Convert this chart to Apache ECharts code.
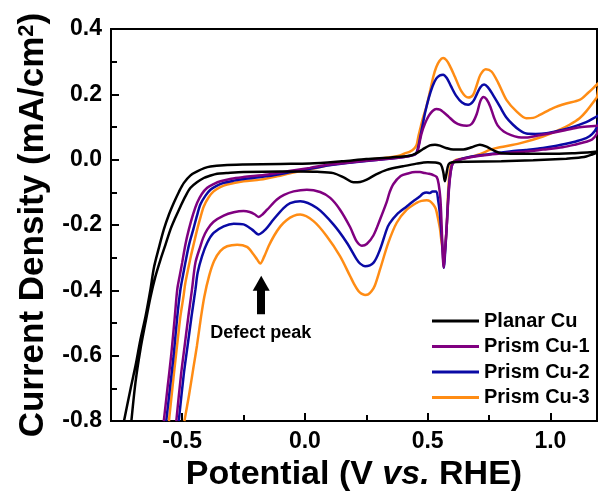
<!DOCTYPE html>
<html>
<head>
<meta charset="utf-8">
<script src="https://cdn.jsdelivr.net/npm/echarts@6/dist/echarts.min.js"></script>
<style>html,body{margin:0;padding:0;background:#fff}#c{width:598px;height:497px}</style>
</head>
<body>
<div id="c"></div>
<script>
// ---- Data (potential V vs RHE, current density mA/cm2), loop order: anodic scan then cathodic scan ----
const seriesNames = ['Planar Cu', 'Prism Cu-1', 'Prism Cu-2', 'Prism Cu-3'];
const seriesColors = ['#000000', '#800080', '#0a0aa5', '#ff8c14'];

const planarCu = [
  [-0.737,-0.80],[-0.71,-0.70],[-0.69,-0.63],[-0.67,-0.55],[-0.649,-0.478],[-0.63,-0.40],[-0.615,-0.33],[-0.595,-0.27],
  [-0.575,-0.214],[-0.555,-0.17],[-0.534,-0.132],[-0.513,-0.098],[-0.493,-0.071],[-0.466,-0.048],[-0.439,-0.036],
  [-0.41,-0.026],[-0.385,-0.021],[-0.33,-0.017],[-0.25,-0.015],[-0.1,-0.013],[0.02,-0.012],[0.15,-0.005],[0.25,0.002],
  [0.35,0.007],[0.428,0.012],[0.455,0.02],[0.48,0.032],[0.509,0.044],[0.53,0.046],[0.55,0.043],[0.575,0.036],
  [0.604,0.031],[0.645,0.031],[0.68,0.038],[0.713,0.046],[0.74,0.04],[0.767,0.029],[0.80,0.02],[0.9,0.018],
  [1.0,0.018],[1.1,0.02],[1.15,0.022],[1.19,0.025],
  [1.2,0.026],
  [1.19,0.022],[1.17,0.016],[1.146,0.010],[1.1,0.005],[1.065,0.003],[0.93,-0.002],[0.8,-0.005],[0.66,-0.006],
  [0.6,-0.008],[0.585,-0.015],[0.575,-0.05],[0.57,-0.066],[0.563,-0.035],[0.55,-0.012],[0.5,-0.008],[0.455,-0.012],
  [0.4,-0.02],[0.333,-0.031],[0.29,-0.045],[0.252,-0.061],[0.225,-0.068],[0.198,-0.069],[0.16,-0.055],[0.116,-0.041],
  [0.05,-0.037],[-0.019,-0.036],[-0.1,-0.036],[-0.25,-0.038],[-0.32,-0.041],[-0.358,-0.043],[-0.39,-0.05],
  [-0.412,-0.056],[-0.44,-0.069],[-0.466,-0.086],[-0.487,-0.112],[-0.507,-0.143],[-0.528,-0.178],[-0.548,-0.214],
  [-0.568,-0.26],[-0.588,-0.305],[-0.61,-0.36],[-0.629,-0.42],[-0.65,-0.5],[-0.67,-0.58],[-0.69,-0.68],[-0.707,-0.80]
];

const prismCu1 = [
  [-0.575,-0.80],[-0.56,-0.70],[-0.545,-0.60],[-0.53,-0.48],[-0.52,-0.397],[-0.51,-0.355],[-0.50,-0.315],[-0.487,-0.26],
  [-0.473,-0.214],[-0.456,-0.168],[-0.439,-0.132],[-0.42,-0.105],[-0.398,-0.086],[-0.37,-0.074],[-0.344,-0.066],
  [-0.30,-0.058],[-0.25,-0.053],[-0.15,-0.045],[-0.05,-0.033],[0.02,-0.025],[0.1,-0.015],[0.2,-0.007],[0.3,0.0],
  [0.38,0.006],[0.43,0.012],[0.455,0.02],[0.465,0.045],[0.475,0.08],[0.49,0.112],[0.505,0.135],[0.52,0.149],
  [0.535,0.155],[0.55,0.153],[0.565,0.145],[0.585,0.132],[0.61,0.115],[0.635,0.106],[0.66,0.104],[0.68,0.11],
  [0.70,0.14],[0.715,0.18],[0.728,0.192],[0.74,0.185],[0.755,0.163],[0.77,0.13],[0.785,0.105],[0.81,0.086],
  [0.84,0.075],[0.87,0.069],[0.90,0.068],[0.95,0.074],[1.0,0.081],[1.06,0.09],[1.12,0.099],[1.19,0.104],
  [1.2,0.105],
  [1.19,0.08],[1.17,0.062],[1.146,0.055],[1.1,0.046],[1.05,0.038],[0.97,0.031],[0.9,0.025],[0.835,0.021],
  [0.75,0.015],[0.68,0.008],[0.64,0.002],[0.61,-0.005],[0.598,-0.02],[0.588,-0.08],[0.578,-0.2],[0.568,-0.31],
  [0.565,-0.33],[0.562,-0.3],[0.557,-0.2],[0.552,-0.12],[0.545,-0.075],[0.537,-0.053],[0.52,-0.046],[0.505,-0.043],
  [0.489,-0.041],[0.469,-0.038],[0.45,-0.038],[0.42,-0.042],[0.39,-0.05],[0.36,-0.075],[0.345,-0.1],[0.333,-0.13],
  [0.306,-0.183],[0.279,-0.232],[0.252,-0.258],[0.232,-0.263],[0.211,-0.25],[0.184,-0.206],[0.143,-0.153],
  [0.103,-0.117],[0.062,-0.099],[0.008,-0.092],[-0.046,-0.097],[-0.085,-0.108],[-0.114,-0.122],[-0.154,-0.153],
  [-0.172,-0.167],[-0.189,-0.175],[-0.205,-0.167],[-0.225,-0.16],[-0.25,-0.157],[-0.29,-0.161],[-0.331,-0.171],
  [-0.372,-0.19],[-0.398,-0.214],[-0.415,-0.24],[-0.426,-0.265],[-0.446,-0.315],[-0.46,-0.397],[-0.475,-0.48],
  [-0.49,-0.57],[-0.505,-0.66],[-0.524,-0.80]
];

const prismCu2 = [
  [-0.565,-0.80],[-0.55,-0.70],[-0.535,-0.60],[-0.52,-0.48],[-0.507,-0.397],[-0.497,-0.355],[-0.487,-0.315],
  [-0.472,-0.26],[-0.455,-0.214],[-0.44,-0.172],[-0.426,-0.137],[-0.405,-0.11],[-0.385,-0.092],[-0.36,-0.08],
  [-0.331,-0.071],[-0.29,-0.064],[-0.25,-0.059],[-0.15,-0.05],[-0.05,-0.037],[0.02,-0.028],[0.1,-0.017],[0.2,-0.008],
  [0.3,0.0],[0.38,0.006],[0.43,0.012],[0.452,0.018],[0.462,0.04],[0.47,0.07],[0.478,0.1],[0.49,0.145],[0.505,0.19],
  [0.52,0.225],[0.535,0.248],[0.55,0.258],[0.563,0.26],[0.578,0.25],[0.595,0.225],[0.615,0.197],[0.64,0.175],
  [0.665,0.168],[0.685,0.178],[0.70,0.2],[0.715,0.222],[0.73,0.23],[0.745,0.222],[0.765,0.2],[0.794,0.163],
  [0.82,0.13],[0.848,0.107],[0.875,0.09],[0.902,0.08],[0.94,0.079],[0.984,0.081],[1.03,0.088],[1.078,0.097],
  [1.146,0.115],[1.19,0.133],
  [1.2,0.136],
  [1.19,0.1],[1.17,0.078],[1.146,0.066],[1.1,0.055],[1.078,0.051],[1.02,0.042],[0.97,0.036],[0.9,0.03],[0.835,0.025],
  [0.75,0.017],[0.68,0.01],[0.64,0.003],[0.61,-0.005],[0.598,-0.02],[0.587,-0.081],[0.577,-0.214],[0.569,-0.31],
  [0.566,-0.331],[0.563,-0.3],[0.557,-0.234],[0.549,-0.16],[0.543,-0.125],[0.535,-0.097],[0.52,-0.097],[0.509,-0.102],
  [0.495,-0.1],[0.48,-0.104],[0.469,-0.112],[0.44,-0.128],[0.415,-0.143],[0.374,-0.168],[0.345,-0.195],[0.333,-0.214],
  [0.306,-0.275],[0.279,-0.316],[0.245,-0.326],[0.225,-0.318],[0.211,-0.305],[0.171,-0.254],[0.116,-0.198],
  [0.049,-0.148],[-0.019,-0.127],[-0.06,-0.133],[-0.087,-0.148],[-0.128,-0.183],[-0.161,-0.214],[-0.189,-0.229],
  [-0.215,-0.214],[-0.25,-0.198],[-0.29,-0.196],[-0.331,-0.204],[-0.372,-0.224],[-0.398,-0.254],[-0.419,-0.295],
  [-0.437,-0.346],[-0.446,-0.397],[-0.462,-0.48],[-0.478,-0.57],[-0.494,-0.66],[-0.514,-0.80]
];

const prismCu3 = [
  [-0.554,-0.80],[-0.54,-0.70],[-0.53,-0.63],[-0.515,-0.53],[-0.507,-0.478],[-0.495,-0.42],[-0.487,-0.377],
  [-0.466,-0.30],[-0.452,-0.255],[-0.439,-0.214],[-0.425,-0.175],[-0.412,-0.143],[-0.392,-0.115],[-0.372,-0.097],
  [-0.345,-0.084],[-0.317,-0.076],[-0.25,-0.066],[-0.182,-0.061],[-0.114,-0.051],[-0.046,-0.039],[0.02,-0.030],
  [0.116,-0.014],[0.252,-0.001],[0.34,0.007],[0.387,0.013],[0.41,0.02],[0.428,0.025],[0.445,0.034],[0.455,0.045],
  [0.462,0.07],[0.47,0.095],[0.48,0.125],[0.496,0.165],[0.51,0.21],[0.523,0.254],[0.535,0.283],[0.548,0.302],
  [0.563,0.311],[0.576,0.305],[0.59,0.288],[0.611,0.254],[0.638,0.209],[0.665,0.19],[0.685,0.198],[0.70,0.228],
  [0.715,0.26],[0.737,0.277],[0.76,0.27],[0.787,0.236],[0.821,0.183],[0.862,0.148],[0.902,0.127],[0.93,0.128],
  [0.957,0.137],[1.011,0.158],[1.065,0.172],[1.119,0.183],[1.153,0.204],[1.19,0.23],
  [1.2,0.236],
  [1.19,0.192],[1.184,0.185],[1.146,0.148],[1.119,0.127],[1.078,0.107],[1.038,0.092],[0.97,0.071],[0.875,0.05],
  [0.794,0.038],[0.753,0.03],[0.713,0.017],[0.66,0.006],[0.618,0.0],[0.6,-0.01],[0.591,-0.03],[0.584,-0.092],
  [0.577,-0.214],[0.569,-0.29],[0.566,-0.31],[0.562,-0.28],[0.557,-0.254],[0.55,-0.21],[0.543,-0.183],[0.533,-0.15],
  [0.523,-0.137],[0.51,-0.127],[0.496,-0.124],[0.475,-0.126],[0.455,-0.132],[0.415,-0.153],[0.374,-0.193],
  [0.34,-0.254],[0.306,-0.336],[0.285,-0.385],[0.272,-0.402],[0.258,-0.412],[0.245,-0.414],[0.23,-0.41],
  [0.218,-0.402],[0.2,-0.38],[0.184,-0.356],[0.143,-0.295],[0.089,-0.234],[0.035,-0.188],[-0.019,-0.168],
  [-0.046,-0.172],[-0.075,-0.185],[-0.1,-0.204],[-0.125,-0.232],[-0.148,-0.265],[-0.165,-0.295],[-0.182,-0.318],
  [-0.195,-0.305],[-0.209,-0.29],[-0.236,-0.267],[-0.276,-0.26],[-0.317,-0.265],[-0.345,-0.28],[-0.37,-0.31],
  [-0.39,-0.355],[-0.41,-0.42],[-0.425,-0.49],[-0.44,-0.57],[-0.455,-0.64],[-0.472,-0.72],[-0.491,-0.80]
];

const xMajorTicks = [-0.5, 0, 0.5, 1.0];
const xMinorTicks = [-0.25, 0.25, 0.75];
const arrowFrom = [-0.178, -0.473];
const arrowTo = [-0.178, -0.378];
const defectLabelAt = [-0.18, -0.531];
const defectLabel = 'Defect peak';

// ---- Chart ----
const FONT = 'Liberation Sans, Arial, sans-serif';
const chart = echarts.init(document.getElementById('c'), null, {renderer: 'canvas'});
const allData = [planarCu, prismCu1, prismCu2, prismCu3];

const series = allData.map((d, i) => ({
  name: seriesNames[i],
  type: 'line',
  data: d,
  showSymbol: false,
  smooth: 0.3,
  clip: true,
  lineStyle: {color: seriesColors[i], width: 2.5},
  itemStyle: {color: seriesColors[i]},
  emphasis: {disabled: true},
  z: 10 - i
}));

series[0].markLine = {
  silent: true,
  animation: false,
  label: {show: false},
  lineStyle: {color: '#000', width: 8, type: 'solid'},
  emphasis: {disabled: true},
  data: [[
    {coord: arrowFrom, symbol: 'none'},
    {coord: arrowTo, symbol: 'triangle', symbolSize: [17, 15]}
  ]]
};
series[0].markPoint = {
  silent: true,
  animation: false,
  symbol: 'rect',
  symbolSize: 1,
  itemStyle: {color: 'rgba(0,0,0,0)'},
  label: {show: true, position: 'inside', formatter: defectLabel, color: '#000', fontSize: 18, fontWeight: 'bold', fontFamily: FONT},
  data: [{coord: defectLabelAt}]
};

chart.setOption({
  animation: false,
  backgroundColor: '#fff',
  textStyle: {fontFamily: FONT},
  grid: {left: 111, right: 1, top: 29, bottom: 75, show: true, borderColor: '#000', borderWidth: 2, containLabel: false},
  legend: {
    data: seriesNames,
    orient: 'vertical',
    left: 427, top: 306,
    itemWidth: 47, itemHeight: 3, itemGap: 5.5,
    icon: 'rect',
    textStyle: {fontSize: 20, fontWeight: 'bold', color: '#000', fontFamily: FONT, lineHeight: 20},
    selectedMode: false
  },
  xAxis: [{
    type: 'value', min: -0.79, max: 1.19,
    name: 'Potential (V {i|vs.} RHE)',
    nameLocation: 'middle', nameGap: 34,
    nameTextStyle: {fontSize: 34, fontWeight: 'bold', color: '#000', fontFamily: FONT,
      rich: {i: {fontSize: 34, fontWeight: 'bold', fontStyle: 'italic', color: '#000', fontFamily: FONT}}},
    axisLine: {show: true, onZero: false, lineStyle: {color: '#000', width: 2}},
    axisTick: {show: true, inside: true, length: 8, lineStyle: {color: '#000', width: 2}, customValues: xMajorTicks},
    axisLabel: {show: true, margin: 9, fontSize: 23, fontWeight: 'bold', color: '#000', fontFamily: FONT,
      customValues: xMajorTicks, formatter: v => v.toFixed(1)},
    splitLine: {show: false}
  }, {
    type: 'value', min: -0.79, max: 1.19, position: 'bottom', gridIndex: 0,
    axisLine: {show: false, onZero: false},
    axisTick: {show: true, inside: true, length: 6, lineStyle: {color: '#000', width: 2}, customValues: xMinorTicks},
    axisLabel: {show: false},
    splitLine: {show: false}
  }],
  yAxis: {
    type: 'value', min: -0.8, max: 0.4, interval: 0.2,
    name: 'Current Density (mA/cm{sup|2})',
    nameLocation: 'middle', nameGap: 60, nameRotate: 90,
    nameTextStyle: {fontSize: 35, fontWeight: 'bold', color: '#000', fontFamily: FONT,
      rich: {sup: {fontSize: 22, fontWeight: 'bold', verticalAlign: 'top', color: '#000', fontFamily: FONT}}},
    axisLine: {show: true, onZero: false, lineStyle: {color: '#000', width: 2}},
    axisTick: {show: true, inside: true, length: 8, lineStyle: {color: '#000', width: 2}},
    minorTick: {show: true, splitNumber: 2, length: 6, lineStyle: {color: '#000', width: 2}},
    axisLabel: {margin: 9, fontSize: 23, fontWeight: 'bold', color: '#000', fontFamily: FONT, formatter: v => v.toFixed(1)},
    splitLine: {show: false},
    minorSplitLine: {show: false}
  },
  series: series
});
</script>
</body>
</html>
